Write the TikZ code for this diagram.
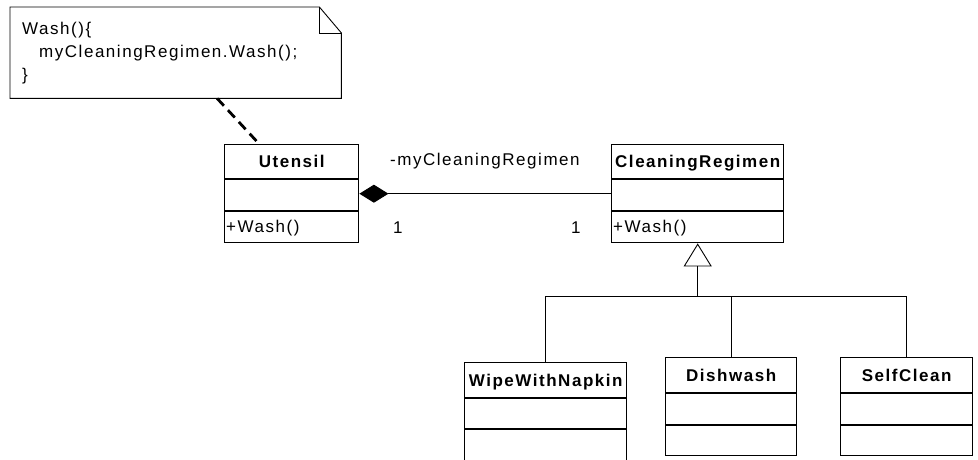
\documentclass[tikz,border=0pt]{standalone}
\usepackage{fontspec}
\setmainfont{Liberation Sans}[LetterSpace=9]
\usetikzlibrary{calc,arrows.meta}

\newcommand\classbox[9]{%
  % #1 name, #2 x, #3 y, #4 w, #5 h, #6 divider 1, #7 divider 2, #8 title, #9 member
  \node[boxframe, minimum width=#4pt, minimum height=#5pt] (#1) at (#2,#3) {};
  \draw[boxline] ($(#1.north west)+(0,#6)$) -- ($(#1.north east)+(0,#6)$);
  \draw[boxline] ($(#1.north west)+(0,#7)$) -- ($(#1.north east)+(0,#7)$);
  \node[clsname] (#1-title) at ($(#1.north)+(0,#6/2+6)$) {#8};
  \node[member] (#1-op) at ($(#1.north west)+(2,#7/2+#5/2+6)$) {#9};
}

\begin{document}
\begin{tikzpicture}[x=1pt,y=-1pt,
  boxframe/.style={draw, line width=1.4pt, inner sep=0pt, anchor=north west},
  boxline/.style={line width=1.4pt},
  clsname/.style={font=\fontsize{17}{20}\selectfont\bfseries, inner sep=0pt, anchor=base},
  member/.style={font=\fontsize{17}{20}\selectfont, inner sep=0pt, anchor=base west},
  txt/.style={font=\fontsize{17}{20}\selectfont, inner sep=0pt, anchor=base west},
  conn/.style={line width=0.9pt},
  notelink/.style={line width=2.8pt, dash pattern=on 10pt off 6pt},
]
\useasboundingbox (0,0) rectangle (978,459);
\clip (0,0) rectangle (978,459);

% note
\node[inner sep=0pt, minimum width=331pt, minimum height=91pt, anchor=north west] (note) at (10,7) {};
\draw[line width=0.9pt] (note.north west) -- ($(note.north east)+(-22,0)$) -- ($(note.north east)+(0,26)$)
  -- (note.south east) -- (note.south west) -- cycle;
\draw[line width=0.9pt] ($(note.north east)+(-22,0)$) |- ($(note.north east)+(0,26)$);
\node[txt] (note-l1) at (22,34) {Wash()\{};
\node[txt] (note-l2) at (39,57) {myCleaningRegimen.Wash();};
\node[txt] (note-l3) at (22,80) {\}};

% classes
\classbox{utensil}{224}{144}{134}{98}{35}{67}{Utensil}{+Wash()}
\classbox{cr}{611}{144}{172}{98}{35}{67}{CleaningRegimen}{+Wash()}
\classbox{wipe}{464}{362}{162}{112}{36}{67}{WipeWithNapkin}{}
\classbox{dish}{665}{357}{131}{98}{36}{68}{Dishwash}{}
\classbox{self}{840}{357}{132}{98}{36}{68}{SelfClean}{}

% note link
\draw[notelink] ($(note.south west)!0.625!(note.south east)$) -- ($(utensil.north west)!0.26!(utensil.north east)$);

% composition
\draw[conn, {Diamond[length=29pt, width=18pt, fill=black]}-] (utensil.east) -- (cr.west);
\node[txt] (role) at (390,165) {-myCleaningRegimen};
\node[txt] (m1) at (393,233) {1};
\node[txt] (m2) at (571,233) {1};

% generalization
\coordinate (bus) at (cr.south |- 0,296);
\draw[conn, -{Triangle[open, length=23pt, width=28pt, fill=white]}] (bus) -- (cr.south);
\draw[conn] (bus) -| (wipe.north);
\draw[conn] (bus) -| (dish.north);
\draw[conn] (bus) -| (self.north);
\end{tikzpicture}
\end{document}
